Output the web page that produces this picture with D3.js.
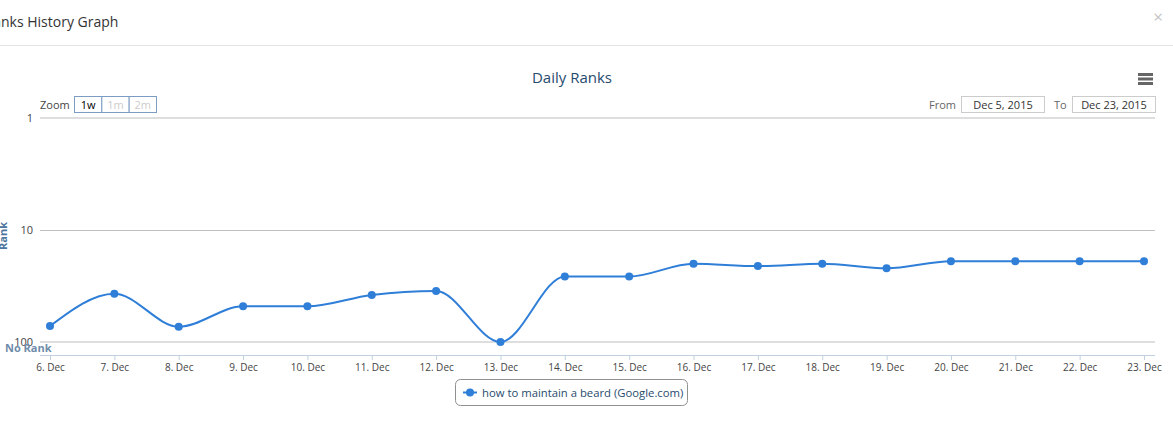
<!DOCTYPE html>
<html>
<head>
<meta charset="utf-8">
<script src="https://cdn.jsdelivr.net/npm/d3@7"></script>
<style>
  html, body { margin: 0; padding: 0; background: #fff; overflow: hidden; }
  svg { display: block; font-family: "Open Sans", sans-serif; }
</style>
</head>
<body>
<script>
// daily rank data
var days = ["2015-12-06", "2015-12-07", "2015-12-08", "2015-12-09", "2015-12-10", "2015-12-11",
            "2015-12-12", "2015-12-13", "2015-12-14", "2015-12-15", "2015-12-16", "2015-12-17",
            "2015-12-18", "2015-12-19", "2015-12-20", "2015-12-21", "2015-12-22", "2015-12-23"];
var ranks = [72, 37, 73, 48, 48, 38, 35, 100, 26, 26, 20, 21, 20, 22, 19, 19, 19, 19];
var rankTicks = [1, 10, 100];
var zoomButtons = ["1w", "1m", "2m"];
var seriesName = "how to maintain a beard (Google.com)";

var W = 1173, H = 432;
var plot = {left: 40, right: 1155, top: 118, bottom: 355};

var parse = d3.timeParse("%Y-%m-%d");
var data = days.map(function (d, i) { return {date: parse(d), rank: ranks[i]}; });

var svg = d3.select("body").append("svg")
    .attr("width", W)
    .attr("height", H);

svg.append("rect").attr("width", W).attr("height", H).attr("fill", "#fff");

// modal header (the dialog is scrolled, so the start of the title is cut)
var head = svg.append("text")
    .attr("y", 27)
    .style("font-size", "14px")
    .attr("fill", "#333")
    .text("Ranks History Graph");
var tmp = svg.append("text").style("font-size", "14px").text("Ra");
var cut = tmp.node().getComputedTextLength();
tmp.remove();
head.attr("x", -cut + 1);

svg.append("text")
    .attr("x", 1158).attr("y", 23)
    .attr("text-anchor", "middle")
    .style("font-size", "17px")
    .attr("fill", "#c4c4c4")
    .text("×");

svg.append("line")
    .attr("x1", 0).attr("x2", W)
    .attr("y1", 45.5).attr("y2", 45.5)
    .attr("stroke", "#e5e5e5");

// chart title
svg.append("text")
    .attr("x", 572).attr("y", 83)
    .attr("text-anchor", "middle")
    .style("font-size", "15px")
    .attr("fill", "#274b6d")
    .text("Daily Ranks");

// menu icon
var menu = svg.append("g");
[73, 77.5, 82].forEach(function (yy) {
    menu.append("rect")
        .attr("x", 1138).attr("y", yy)
        .attr("width", 15).attr("height", 3)
        .attr("fill", "#666");
});

// range selector
svg.append("text")
    .attr("x", 40).attr("y", 109)
    .style("font-size", "11px")
    .attr("fill", "#444")
    .text("Zoom");

var btnX = d3.scaleBand().domain(zoomButtons).range([74.5, 156.5]);
var btn = svg.selectAll(".btn")
    .data(zoomButtons)
    .enter().append("g")
    .attr("class", "btn");
btn.append("rect")
    .attr("x", function (d) { return btnX(d); })
    .attr("y", 96.5)
    .attr("width", btnX.bandwidth())
    .attr("height", 16)
    .attr("fill", "#fff")
    .attr("stroke", "#7d9cc4");
btn.append("text")
    .attr("x", function (d) { return btnX(d) + btnX.bandwidth() / 2; })
    .attr("y", 108.5)
    .attr("text-anchor", "middle")
    .style("font-size", "11px")
    .attr("fill", function (d, i) { return i == 0 ? "#000" : "#ccc"; })
    .text(function (d) { return d; });

var inputs = [
    {label: "From", lx: 929, x: 961, w: 83, text: "Dec 5, 2015"},
    {label: "To", lx: 1054, x: 1072, w: 83, text: "Dec 23, 2015"}
];
inputs.forEach(function (inp) {
    svg.append("text")
        .attr("x", inp.lx).attr("y", 109)
        .style("font-size", "11px")
        .attr("fill", "#666")
        .text(inp.label);
    svg.append("rect")
        .attr("x", inp.x + 0.5).attr("y", 96.5)
        .attr("width", inp.w).attr("height", 16)
        .attr("fill", "#fff")
        .attr("stroke", "#ccc");
    svg.append("text")
        .attr("x", inp.x + inp.w / 2 + 0.5).attr("y", 109)
        .attr("text-anchor", "middle")
        .style("font-size", "11px")
        .attr("fill", "#333")
        .text(inp.text);
});

// scales
var x = d3.scaleTime()
    .domain(d3.extent(data, function (d) { return d.date; }))
    .range([50, 1144]);

var y = d3.scaleLog()
    .domain([1, 100])
    .range([plot.top, 342]);

// grid lines
svg.selectAll(".grid")
    .data(rankTicks)
    .enter().append("line")
    .attr("x1", plot.left).attr("x2", plot.right)
    .attr("y1", function (d) { return Math.round(y(d)) + (d == 10 ? 0.5 : 0); })
    .attr("y2", function (d) { return Math.round(y(d)) + (d == 10 ? 0.5 : 0); })
    .attr("stroke", function (d) { return d == 10 ? "#c0c0c0" : "#dedede"; })
    .attr("stroke-width", function (d) { return d == 10 ? 1 : 2; });

// y axis labels
var yAxis = svg.append("g")
    .attr("transform", "translate(" + plot.left + ",0)")
    .call(d3.axisLeft(y).tickValues(rankTicks).tickSize(0).tickPadding(7)
        .tickFormat(d3.format("d")));
yAxis.select(".domain").remove();
yAxis.selectAll("text")
    .style("font-size", "11px")
    .style("font-family", "Open Sans, sans-serif")
    .attr("fill", "#444");

svg.append("text")
    .attr("transform", "translate(7,236) rotate(-90)")
    .attr("text-anchor", "middle")
    .style("font-size", "11px")
    .style("font-weight", "bold")
    .attr("fill", "#4d759e")
    .text("Rank");

svg.append("text")
    .attr("x", 5).attr("y", 352)
    .style("font-size", "11px")
    .style("font-weight", "bold")
    .attr("fill", "#6f8caa")
    .text("No Rank");

// x axis
var xAxis = svg.append("g")
    .attr("transform", "translate(0," + plot.bottom + ")")
    .call(d3.axisBottom(x)
        .tickValues(data.map(function (d) { return d.date; }))
        .tickFormat(d3.timeFormat("%-d. %b"))
        .tickSizeOuter(0)
        .tickSizeInner(5)
        .tickPadding(4));
xAxis.select(".domain")
    .attr("d", "M" + plot.left + ",0.5H" + plot.right)
    .attr("stroke", "#c0d0e0");
xAxis.selectAll(".tick line").attr("stroke", "#c0d0e0");
xAxis.selectAll(".tick text")
    .style("font-size", "10px")
    .style("font-family", "Open Sans, sans-serif")
    .attr("fill", "#444");

// series
var line = d3.line()
    .x(function (d) { return x(d.date); })
    .y(function (d) { return y(d.rank); })
    .curve(d3.curveMonotoneX);

svg.append("path")
    .datum(data)
    .attr("fill", "none")
    .attr("stroke", "#2f7ed8")
    .attr("stroke-width", 2)
    .attr("d", line);

svg.selectAll(".pt")
    .data(data)
    .enter().append("circle")
    .attr("class", "pt")
    .attr("cx", function (d) { return x(d.date); })
    .attr("cy", function (d) { return y(d.rank); })
    .attr("r", 4)
    .attr("fill", "#2f7ed8");

// legend
var lg = svg.append("g");
lg.append("rect")
    .attr("x", 455.5).attr("y", 379.5)
    .attr("width", 232).attr("height", 26)
    .attr("rx", 5)
    .attr("fill", "#fff")
    .attr("stroke", "#909090");
lg.append("line")
    .attr("x1", 463).attr("x2", 477)
    .attr("y1", 392.5).attr("y2", 392.5)
    .attr("stroke", "#2f7ed8")
    .attr("stroke-width", 2);
lg.append("circle")
    .attr("cx", 470).attr("cy", 392.5).attr("r", 4)
    .attr("fill", "#2f7ed8");
lg.append("text")
    .attr("x", 482).attr("y", 397)
    .style("font-size", "11.3px")
    .attr("fill", "#274b6d")
    .text(seriesName);
</script>
</body>
</html>
